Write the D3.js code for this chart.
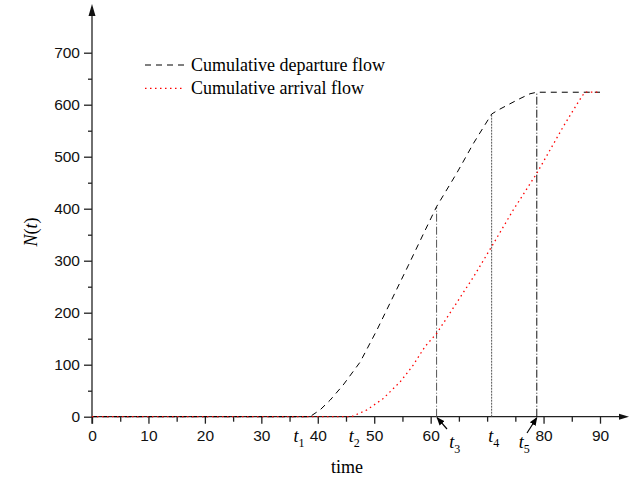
<!DOCTYPE html>
<html><head><meta charset="utf-8">
<script src="https://cdn.jsdelivr.net/npm/d3@7"></script>
<style>
html,body{margin:0;padding:0;background:#fff;}
svg{display:block;}
</style></head>
<body>
<svg id="chart" width="629" height="479"></svg>
<script>
// ---- data ----
const departureT = [0, 38.6, 40.4, 42.2, 44.5, 47.5, 50.4, 53.0, 56.0, 59.0, 61.05, 64.6, 67.6, 70.8, 72.0, 75.5, 77.6, 78.8, 90];
const departureN = [0, 0, 13, 32, 61, 105, 165, 223, 290, 358, 404, 468, 526, 582, 590, 610, 621, 624, 624];
const arrivalT = [0, 46.0, 48.7, 51.6, 54.6, 56.9, 59.0, 61.05, 63.4, 67.6, 70.8, 74.6, 78.8, 83.5, 86.2, 87.3, 90];
const arrivalN = [0, 0, 13, 35, 67, 99, 135, 160, 199, 269, 327, 397, 468, 558, 606, 624, 624];
const markerT = [61.05, 70.8, 78.8];
const markerN = [404, 582, 624];
const xTicks = [0, 10, 20, 30, 40, 50, 60, 80, 90];
const xMinor = [5, 15, 25, 35, 45, 55, 65, 70, 75, 85];
const yTicks = [0, 100, 200, 300, 400, 500, 600, 700];
const yMinor = [50, 150, 250, 350, 450, 550, 650];
const seriesNames = ["Cumulative departure flow", "Cumulative arrival flow"];
const tLabels = [
  {sub: "1", t: 35.7, row: 0},
  {sub: "2", t: 45.5, row: 0},
  {sub: "3", t: 63.3, row: 1},
  {sub: "4", t: 70.2, row: 0},
  {sub: "5", t: 75.6, row: 1}
];

const svg = d3.select("#chart");
const x = d3.scaleLinear().domain([0, 90]).range([92, 600]);
const y = d3.scaleLinear().domain([0, 700]).range([416.7, 52.7]);
const sansFont = "'Liberation Sans', Arial, sans-serif";
const serifFont = "'Liberation Serif', 'Times New Roman', serif";

// axes
const x0 = x(0), y0 = y(0);
svg.append("line").attr("x1", x0).attr("x2", x0).attr("y1", y0 + 7).attr("y2", 12)
  .attr("stroke", "#222").attr("stroke-width", 1.3);
svg.append("path").attr("d", `M${x0},4 L${x0-3.5},16 L${x0+3.5},16 Z`).attr("fill", "#111");
svg.append("line").attr("x1", x0).attr("x2", 622).attr("y1", y0).attr("y2", y0)
  .attr("stroke", "#222").attr("stroke-width", 1.3);
svg.append("path").attr("d", `M629,${y0} L619,${y0-3} L619,${y0+3} Z`).attr("fill", "#111");

const yAxis = d3.axisLeft(y).tickValues(yTicks).tickSize(8).tickPadding(4).tickFormat(d3.format("d"));
const gy = svg.append("g").attr("transform", `translate(${x0},0)`).call(yAxis);
gy.select(".domain").remove();
gy.selectAll("line").attr("stroke", "#222").attr("stroke-width", 1.3);
gy.selectAll("text").attr("font-family", sansFont).attr("font-size", 15.5).attr("fill", "#111");
const gyMinor = svg.append("g").attr("transform", `translate(${x0},0)`)
  .call(d3.axisLeft(y).tickValues(yMinor).tickSize(4).tickFormat(""));
gyMinor.select(".domain").remove();
gyMinor.selectAll("line").attr("stroke", "#222").attr("stroke-width", 1.3);

const xAxis = d3.axisBottom(x).tickValues(xTicks).tickSize(7).tickPadding(6).tickFormat(d3.format("d"));
const gx = svg.append("g").attr("transform", `translate(0,${y0})`).call(xAxis);
gx.select(".domain").remove();
gx.selectAll("line").attr("stroke", "#222").attr("stroke-width", 1.3);
gx.selectAll("text").attr("font-family", sansFont).attr("font-size", 15.5).attr("fill", "#111");
const gxMinor = svg.append("g").attr("transform", `translate(0,${y0})`)
  .call(d3.axisBottom(x).tickValues(xMinor).tickSize(5).tickFormat(""));
gxMinor.select(".domain").remove();
gxMinor.selectAll("line").attr("stroke", "#222").attr("stroke-width", 1.3);

// marker vertical lines
const markerStyles = [
  {color: "#555", dash: "8,2,1,2"},
  {color: "#555", dash: "2,1"},
  {color: "#111", dash: "8,2,1,2"}
];
markerT.forEach((t, i) => {
  svg.append("line").attr("x1", x(t)).attr("x2", x(t)).attr("y1", y0).attr("y2", y(markerN[i]))
    .attr("stroke", markerStyles[i].color).attr("stroke-width", 1)
    .attr("stroke-dasharray", markerStyles[i].dash);
});

// curves
const line = d3.line().x(d => x(d[0])).y(d => y(d[1]));
const dep = departureT.map((t, i) => [t, departureN[i]]);
const arr = arrivalT.map((t, i) => [t, arrivalN[i]]);
svg.append("path").attr("d", line(dep)).attr("fill", "none").attr("stroke", "#000")
  .attr("stroke-width", 1).attr("stroke-dasharray", "6,5");
svg.append("path").attr("d", line(arr)).attr("fill", "none").attr("stroke", "#ff0000")
  .attr("stroke-width", 1.3).attr("stroke-dasharray", "1.5,3.5");

// legend
const legend = svg.append("g");
[["#000", "6,5", 1], ["#ff0000", "1.5,3.5", 1.3]].forEach((s, i) => {
  const ly = 65 + i * 23.3;
  legend.append("line").attr("x1", 145).attr("x2", 184).attr("y1", ly).attr("y2", ly)
    .attr("stroke", s[0]).attr("stroke-dasharray", s[1]).attr("stroke-width", s[2]);
  legend.append("text").attr("x", 191).attr("y", ly + 6).text(seriesNames[i])
    .attr("font-family", serifFont).attr("font-size", 18).attr("fill", "#000");
});

// t labels
tLabels.forEach(d => {
  const tx = svg.append("text").attr("x", x(d.t)).attr("y", d.row ? 448 : 442)
    .attr("font-family", serifFont).attr("font-size", 18).attr("fill", "#000");
  tx.append("tspan").attr("font-style", "italic").text("t");
  tx.append("tspan").attr("font-size", 12).attr("dy", 5).text(d.sub);
});

// arrows for t3 and t5
svg.append("defs").append("marker").attr("id", "ah").attr("viewBox", "0 0 10 10")
  .attr("refX", 9).attr("refY", 5).attr("markerWidth", 7).attr("markerHeight", 7)
  .attr("orient", "auto").append("path").attr("d", "M0,1 L10,5 L0,9 Z").attr("fill", "#000");
svg.append("line").attr("x1", 447).attr("y1", 429).attr("x2", x(markerT[0]) + 0.5).attr("y2", y0 + 1)
  .attr("stroke", "#000").attr("stroke-width", 1.2).attr("marker-end", "url(#ah)");
svg.append("line").attr("x1", 527).attr("y1", 433).attr("x2", x(markerT[2])).attr("y2", y0 + 1)
  .attr("stroke", "#000").attr("stroke-width", 1.2).attr("marker-end", "url(#ah)");

// axis titles
svg.append("text").attr("x", 347).attr("y", 473).attr("text-anchor", "middle")
  .attr("font-family", serifFont).attr("font-size", 18).attr("fill", "#000").text("time");
const yt = svg.append("text").attr("transform", "translate(37,232) rotate(-90)").attr("text-anchor", "middle")
  .attr("font-family", serifFont).attr("font-size", 18).attr("fill", "#000");
yt.append("tspan").attr("font-style", "italic").text("N");
yt.append("tspan").text("(");
yt.append("tspan").attr("font-style", "italic").text("t");
yt.append("tspan").text(")");
</script>
</body></html>
